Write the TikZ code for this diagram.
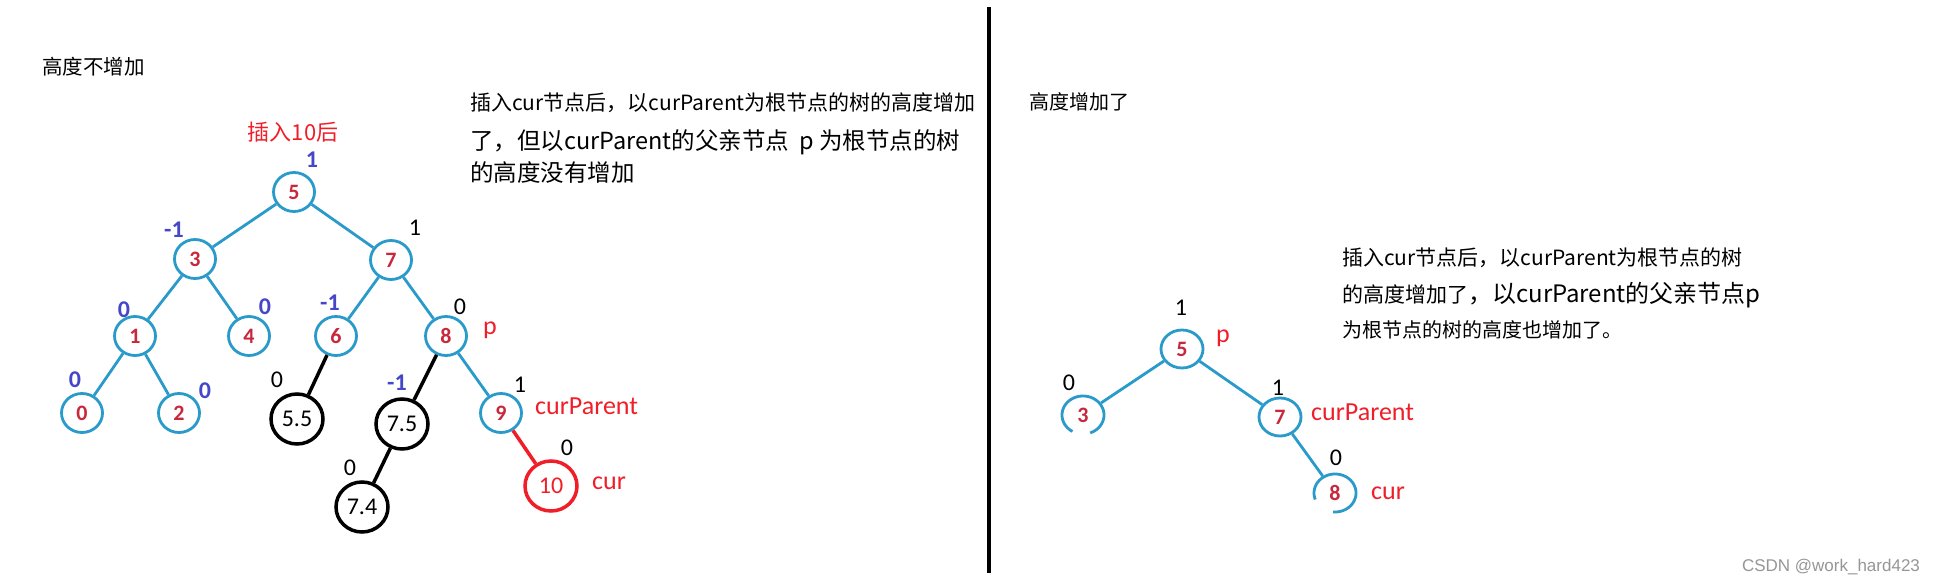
\documentclass[tikz,border=0pt]{standalone}
\usepackage{fontspec}
\setmainfont{Noto Sans CJK SC}
\newfontfamily\calib{Carlito}
\newfontfamily\wmfont{Liberation Sans}
\usetikzlibrary{shapes.geometric}
\definecolor{tblue}{RGB}{41,154,201}
\definecolor{nred}{RGB}{200,40,60}
\definecolor{bfblue}{RGB}{70,70,200}
\definecolor{lred}{RGB}{240,30,40}
\definecolor{wm}{RGB}{150,150,150}
\newcommand{\fsz}[1]{\fontsize{#1}{#1}\selectfont}
\begin{document}
\begin{tikzpicture}[x=1pt,y=-1pt,
 bnode/.style={ellipse, draw=tblue, line width=2.8pt, minimum width=41pt, minimum height=39pt, inner sep=0pt, font=\calib\bfseries\fsz{22}, text=nred},
 rbnode/.style={bnode, minimum width=42pt, minimum height=38pt},
 obnode/.style={rbnode, draw=none},
 knode/.style={ellipse, draw=black, line width=3.5pt, minimum width=52pt, minimum height=50pt, inner sep=0pt, font=\calib\fsz{24}},
 rnode/.style={knode, draw=lred, text=lred},
 bedge/.style={draw=tblue, line width=2.8pt},
 kedge/.style={draw=black, line width=3.5pt},
 redge/.style={draw=lred, line width=3.5pt},
 bf/.style={font=\calib\bfseries\fsz{24}, text=bfblue, inner sep=0pt},
 bk/.style={font=\calib\fsz{24}, text=black, inner sep=0pt},
 rl/.style={font=\calib\fsz{26}, text=lred, inner sep=0pt},
 txt/.style={anchor=west, inner sep=0pt, text=black}
]
\useasboundingbox (0,0) rectangle (1937,585);
\fill[white] (0,0) rectangle (1937,585);

% divider
\coordinate (dtop) at (989,7);
\coordinate (dbot) at (989,573);
\draw[line width=4pt] (dtop) -- (dbot);

% ---------------- left part ----------------
\node[txt, font=\fsz{20.5}] (ltitle) at (42,67) {高度不增加};
\node[inner sep=0pt, font=\fsz{22}, text=lred] (lins) at (293,132) {插入10后};
\node[txt, font=\fsz{21}] (lp1) at (470,103) {插入cur节点后，以curParent为根节点的树的高度增加};
\node[txt, font=\fsz{23.5}] (lp2) at (470,142) {了，但以curParent的父亲节点 \ p 为根节点的树};
\node[txt, font=\fsz{23.5}] (lp3) at (470,173) {的高度没有增加};

\node[bnode] (L5) at (294,192) {5};
\node[bnode] (L3) at (195,259) {3};
\node[bnode] (L7) at (391,260) {7};
\node[bnode] (L1) at (135,336) {1};
\node[bnode] (L4) at (249,336) {4};
\node[bnode] (L6) at (336,336) {6};
\node[bnode] (L8) at (446,336) {8};
\node[bnode] (L0) at (82,413) {0};
\node[bnode] (L2) at (179,413) {2};
\node[bnode] (L9) at (501,413) {9};
\node[knode] (L55) at (297,419) {5.5};
\node[knode] (L75) at (402,424) {7.5};
\node[knode] (L74) at (362,507) {7.4};
\node[rnode] (L10) at (551,486) {10};

\draw[bedge] (L5) -- (L3);
\draw[bedge] (L5) -- (L7);
\draw[bedge] (L3) -- (L1);
\draw[bedge] (L3) -- (L4);
\draw[bedge] (L7) -- (L6);
\draw[bedge] (L7) -- (L8);
\draw[bedge] (L1) -- (L0);
\draw[bedge] (L1) -- (L2);
\draw[bedge] (L8) -- (L9);
\draw[kedge] (L6) -- (L55);
\draw[kedge] (L8) -- (L75);
\draw[kedge] (L75) -- (L74);
\draw[redge] (L9) -- (L10);

\node[bf] (b5) at (312,160) {1};
\node[bf] (b3) at (174,230) {-1};
\node[bk] (b7) at (415,228) {1};
\node[bf] (b1) at (124,310) {0};
\node[bf] (b4) at (265,307) {0};
\node[bf] (b6) at (330,303) {-1};
\node[bk] (b8) at (460,307) {0};
\node[rl] (lp) at (490,330) {p};
\node[bf] (b0) at (75,380) {0};
\node[bf] (b2) at (205,391) {0};
\node[bk] (b55) at (277,380) {0};
\node[bf] (b75) at (397,383) {-1};
\node[bk] (b9) at (520,385) {1};
\node[rl, anchor=west] (lcp) at (535,406) {curParent};
\node[bk] (b10) at (567,448) {0};
\node[bk] (b74) at (350,468) {0};
\node[rl] (lcur) at (609,483) {cur};

% ---------------- right part ----------------
\node[txt, font=\fsz{20}] (rtitle) at (1029,102) {高度增加了};
\node[txt, font=\fsz{21}] (rp1) at (1342,258) {插入cur节点后，以curParent为根节点的树};
\node[txt, font=\fsz{21}] (rp2) at (1342,295) {的高度增加了{\fsz{24}，以curParent的父亲节点p}};
\node[txt, font=\fsz{20}] (rp3) at (1342,330) {为根节点的树的高度也增加了。};

\node[rbnode] (R5) at (1182,349) {5};
\node[obnode] (R3) at (1083,415) {3};
\node[rbnode] (R7) at (1280,417) {7};
\node[obnode] (R8) at (1335,493) {8};
% open circles (with a gap at the bottom)
\draw[bedge] plot[domain=290:600, samples=80, smooth] ({1083+21*cos(\x)}, {415-19*sin(\x)});
\draw[bedge] plot[domain=265:560, samples=80, smooth] ({1335+21*cos(\x)}, {493-19*sin(\x)});
\draw[bedge] (R5) -- (R3);
\draw[bedge] (R5) -- (R7);
\draw[bedge] (R7) -- (R8);

\node[bk] (rb5) at (1181,308) {1};
\node[rl] (rp) at (1223,338) {p};
\node[bk] (rb3) at (1069,383) {0};
\node[bk] (rb7) at (1278,388) {1};
\node[rl, anchor=west] (rcp) at (1311,412) {curParent};
\node[bk] (rb8) at (1336,458) {0};
\node[rl] (rcur) at (1388,493) {cur};

\node[inner sep=0pt, font=\wmfont\fsz{17}, text=wm] (wmark) at (1831,567) {CSDN @work\_hard423};
\end{tikzpicture}
\end{document}
